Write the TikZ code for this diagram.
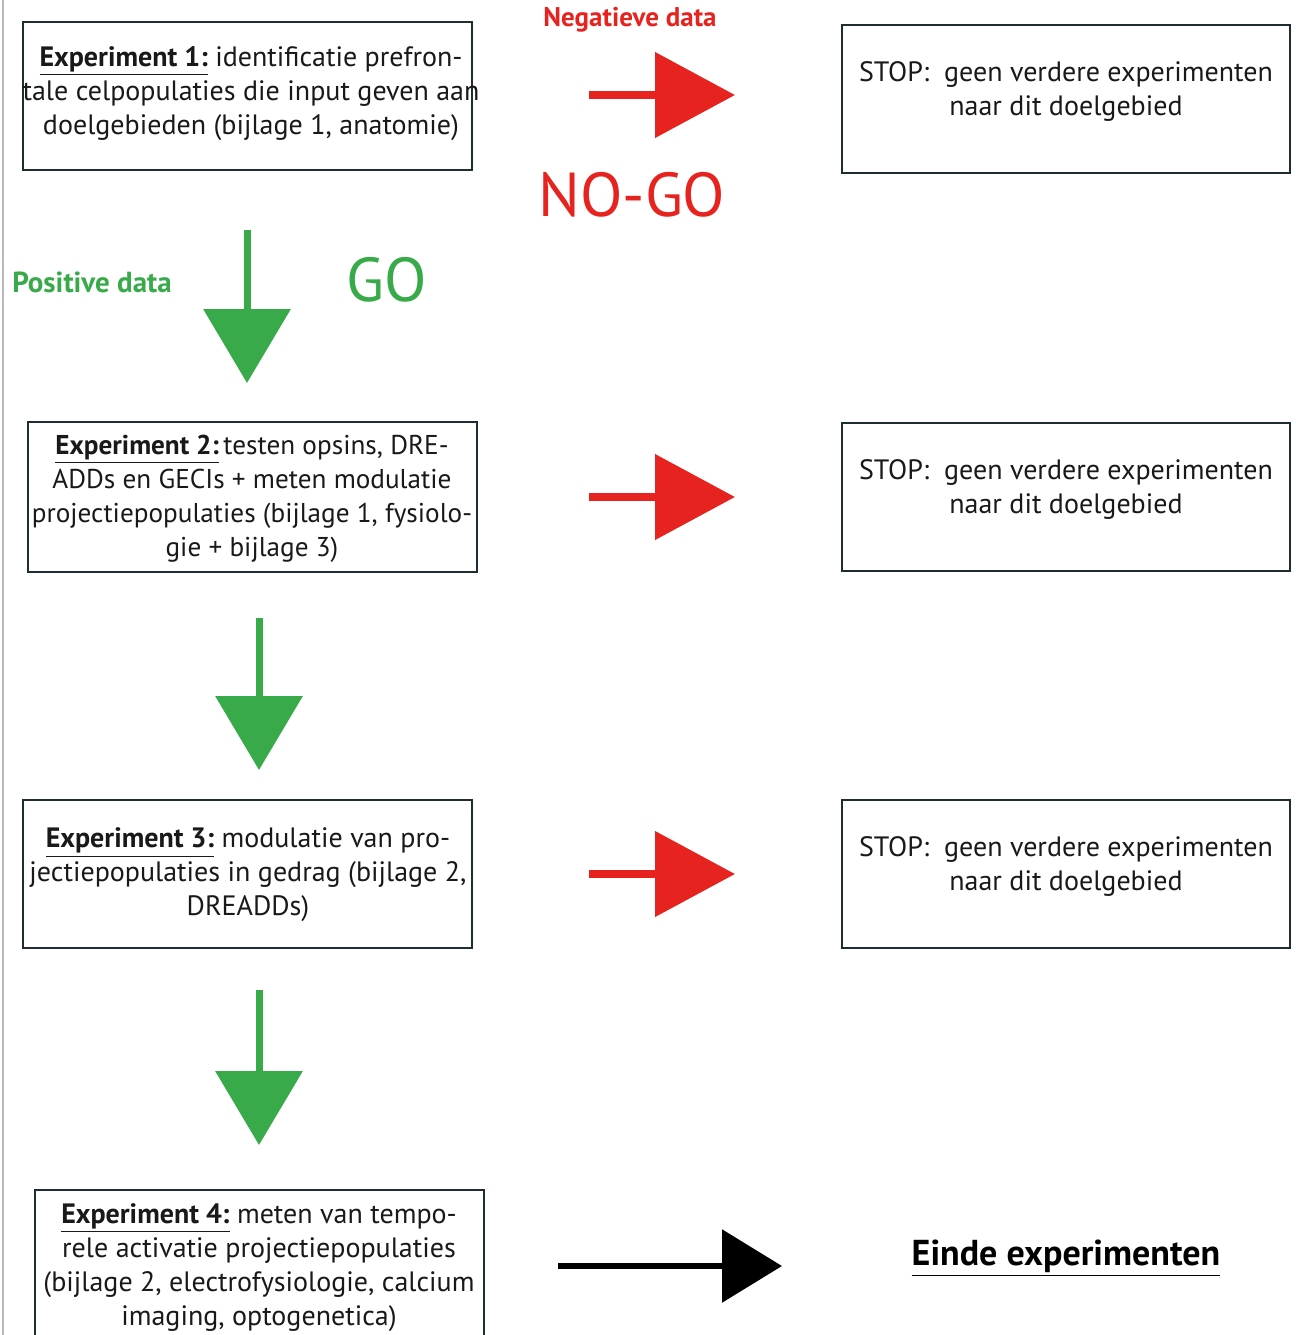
\documentclass[tikz,border=0pt]{standalone}
\usepackage{fontspec}
\setmainfont{PT Sans}
\usetikzlibrary{arrows.meta}
\definecolor{gogreen}{RGB}{57,170,73}
\definecolor{nored}{RGB}{230,35,30}
\definecolor{boxline}{RGB}{30,45,50}
\definecolor{edgegray}{RGB}{185,185,185}
\newcommand{\exphead}[1]{\underline{\textbf{#1}}}
\begin{document}
\begin{tikzpicture}[x=0.5pt,y=-0.5pt,
  expbox/.style={draw=boxline, line width=1pt, minimum width=224.5pt, minimum height=74pt, inner sep=0pt},
  stopbox/.style={draw=boxline, line width=1pt, minimum width=224pt, minimum height=74pt, inner sep=0pt},
  bodytext/.style={align=center, font=\fontsize{14}{17}\selectfont, inner sep=0pt, text=black!90},
  redarrow/.style={draw=nored, line width=4pt, -{Triangle[length=40pt,width=42pt]}},
  greenarrow/.style={draw=gogreen, line width=3.5pt, -{Triangle[length=37pt,width=43pt]}},
  blackarrow/.style={draw=black, line width=3pt, -{Triangle[length=30pt,width=36pt]}},
]
\clip (0,0) rectangle (1296,1335);
\fill[white] (0,0) rectangle (1296,1335);
\draw[edgegray, line width=1pt] (3,0) -- (3,1335);

% experiment boxes
\node[expbox] (e1) at (247.5,96) {};
\node[bodytext] (t1) at (251,93.5) {\exphead{Experiment 1:} identificatie prefron-\\tale celpopulaties die input geven aan\\doelgebieden (bijlage 1, anatomie)};

\node[expbox, minimum height=75pt] (e2) at (252.5,497) {};
\node[bodytext, font=\fontsize{13.6}{17}\selectfont] (t2) at (252,498.5) {\exphead{Experiment 2:}\,testen opsins, DRE-\\ADDs en GECIs + meten modulatie\\projectiepopulaties (bijlage 1, fysiolo-\\gie + bijlage 3)};

\node[expbox] (e3) at (247.5,874) {};
\node[bodytext] (t3) at (248,875) {\exphead{Experiment 3:} modulatie van pro-\\jectiepopulaties in gedrag (bijlage 2,\\DREADDs)};

\node[expbox, minimum height=80pt] (e4) at (259.5,1270) {};
\node[bodytext] (t4) at (259,1267.5) {\exphead{Experiment 4:} meten van tempo-\\rele activatie projectiepopulaties\\(bijlage 2, electrofysiologie, calcium\\imaging, optogenetica)};

% stop boxes
\node[stopbox] (s1) at (1066,98.5) {};
\node[bodytext] (u1) at (1066,91) {STOP:\ \ geen verdere experimenten\\naar dit doelgebied};
\node[stopbox] (s2) at (1066,497) {};
\node[bodytext] (u2) at (1066,489) {STOP:\ \ geen verdere experimenten\\naar dit doelgebied};
\node[stopbox] (s3) at (1066,874) {};
\node[bodytext] (u3) at (1066,866.5) {STOP:\ \ geen verdere experimenten\\naar dit doelgebied};

\node[font=\bfseries\fontsize{18}{20}\selectfont, inner sep=0pt] (einde) at (1066,1258) {\underline{Einde experimenten}};

% labels
\node[font=\bfseries\fontsize{13.5}{15}\selectfont, text=nored, inner sep=0pt] (neg) at (630,20) {Negatieve data};
\node[font=\fontsize{31}{34}\selectfont, text=nored, inner sep=0pt] (nogo) at (632,195) {NO-GO};
\node[font=\bfseries\fontsize{14.5}{16}\selectfont, text=gogreen, inner sep=0pt] (pos) at (92,282) {Positive data};
\node[font=\fontsize{31}{34}\selectfont, text=gogreen, inner sep=0pt] (go) at (387,280) {GO};

% arrow coordinates
\coordinate (r1a) at (589,95);  \coordinate (r1b) at (735,95);
\coordinate (r2a) at (589,497); \coordinate (r2b) at (735,497);
\coordinate (r3a) at (589,874); \coordinate (r3b) at (735,874);
\coordinate (g1a) at (247,230); \coordinate (g1b) at (247,383);
\coordinate (g2a) at (259,618); \coordinate (g2b) at (259,770);
\coordinate (g3a) at (259,990); \coordinate (g3b) at (259,1145);
\coordinate (ba) at (558,1266); \coordinate (bb) at (782,1266);

\draw[redarrow] (r1a) -- (r1b);
\draw[redarrow] (r2a) -- (r2b);
\draw[redarrow] (r3a) -- (r3b);
\draw[greenarrow] (g1a) -- (g1b);
\draw[greenarrow] (g2a) -- (g2b);
\draw[greenarrow] (g3a) -- (g3b);
\draw[blackarrow] (ba) -- (bb);
\end{tikzpicture}
\end{document}
